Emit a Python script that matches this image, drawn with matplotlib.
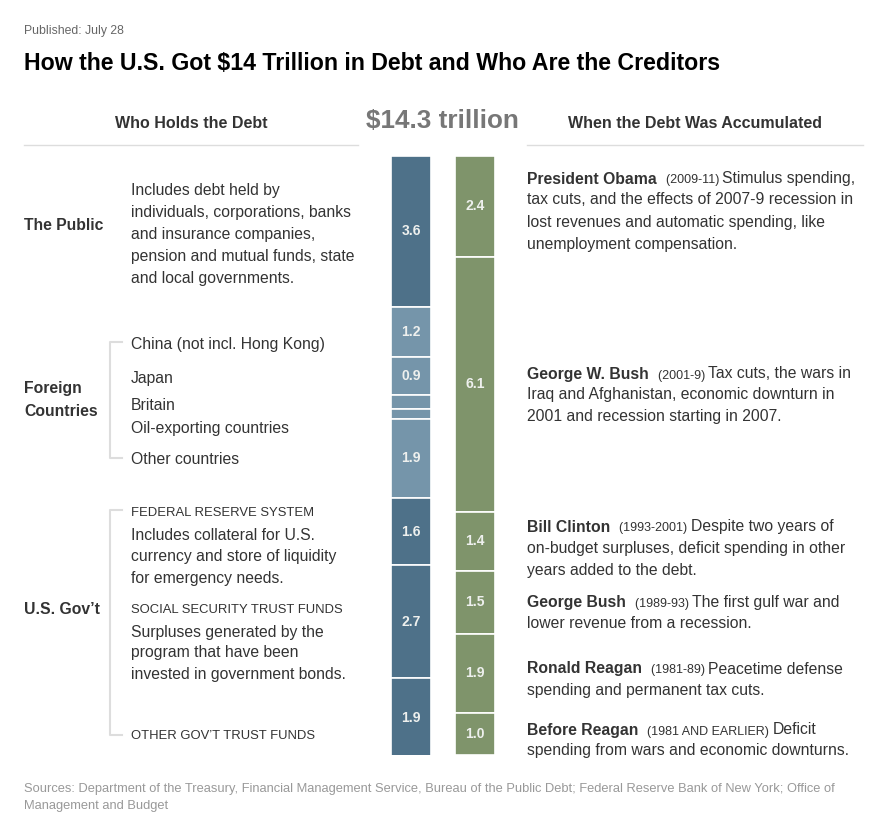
import matplotlib
matplotlib.use("Agg")
import matplotlib.pyplot as plt
import numpy as np

plt.rcParams['font.family'] = ['Liberation Sans', 'DejaVu Sans']

# ---- data ----
holders = ["The Public", "China", "Japan", "Britain", "Oil-exporting countries",
           "Other countries", "Federal Reserve System", "Social Security Trust Funds",
           "Other Gov't Trust Funds"]
holder_values = [3.6, 1.2, 0.9, 0.35, 0.22, 1.9, 1.6, 2.7, 1.9]
holder_labels = ["3.6", "1.2", "0.9", "", "", "1.9", "1.6", "2.7", "1.9"]
holder_group = ["public", "foreign", "foreign", "foreign", "foreign", "foreign", "gov", "gov", "gov"]

periods = ["President Obama", "George W. Bush", "Bill Clinton", "George Bush",
           "Ronald Reagan", "Before Reagan"]
period_values = [2.4, 6.1, 1.4, 1.5, 1.9, 1.0]
period_labels = ["2.4", "6.1", "1.4", "1.5", "1.9", "1.0"]
total_label = "$14.3 trillion"

W, H = 875, 826
fig = plt.figure(figsize=(W / 100, H / 100), dpi=100)
fig.patch.set_facecolor("white")

tx = fig.add_axes([0, 0, 1, 1])
tx.set_xlim(0, W)
tx.set_ylim(H, 0)
tx.axis("off")

DARK = "#333333"
GRAY_LINE = "#dddddd"
BLUE = "#4e7189"
LBLUE = "#7595aa"
GREEN = "#7f946b"

# ---- bars ----
bar_top, bar_bot = 156, 755
ax_left, ax_right = 380, 506
bx = fig.add_axes([ax_left / W, 1 - bar_bot / H, (ax_right - ax_left) / W, (bar_bot - bar_top) / H])
bx.axis("off")
total = sum(period_values)
bx.set_ylim(total, 0)
bx.set_xlim(-0.484, 1.484)

cols = {"public": BLUE, "foreign": LBLUE, "gov": BLUE}
bottoms = np.concatenate([[0], np.cumsum(holder_values)[:-1]])
for v, b, lab, g in zip(holder_values, bottoms, holder_labels, holder_group):
    bx.bar(0, v, bottom=b, width=0.625, color=cols[g], edgecolor="white", linewidth=1.2)
    if lab:
        bx.text(0, b + v / 2, lab, ha="center", va="center", color="#eef0ee",
                fontsize=10, fontweight="bold")

bottoms2 = np.concatenate([[0], np.cumsum(period_values)[:-1]])
for v, b, lab in zip(period_values, bottoms2, period_labels):
    bx.bar(1, v, bottom=b, width=0.625, color=GREEN, edgecolor="white", linewidth=1.2)
    bx.text(1, b + v / 2, lab, ha="center", va="center", color="#eef0ee",
            fontsize=10, fontweight="bold")

# ---- header ----
tx.text(24, 31, "Published: July 28", fontsize=8.85, color="#666666", va="center")
tx.text(24, 64, "How the U.S. Got $14 Trillion in Debt and Who Are the Creditors",
        fontsize=16.7, fontweight="bold", color="black", va="center")
tx.text(191, 124, "Who Holds the Debt", fontsize=11.5, fontweight="bold", color=DARK,
        ha="center", va="center")
tx.text(442, 121, total_label, fontsize=18.8, fontweight="bold", color="#777777",
        ha="center", va="center")
tx.text(695, 124, "When the Debt Was Accumulated", fontsize=11.5, fontweight="bold",
        color=DARK, ha="center", va="center")
tx.plot([24, 358], [145, 145], color=GRAY_LINE, lw=1)
tx.plot([527, 863], [145, 145], color=GRAY_LINE, lw=1)

BODY = 11.3
SMALL = 9.4
DATES = 9.0

def lines(x, ys, texts, size=BODY, color=DARK, weight="normal"):
    for y, t in zip(ys, texts):
        tx.text(x, y, t, fontsize=size, color=color, fontweight=weight, va="center")

# left side
tx.text(24, 225, "The Public", fontsize=BODY, fontweight="bold", color=DARK, va="center")
lines(131, [191, 213, 235, 257, 279],
      ["Includes debt held by", "individuals, corporations, banks",
       "and insurance companies,", "pension and mutual funds, state",
       "and local governments."])

lines(24, [389, 411], ["Foreign", "Countries"], weight="bold")
tx.plot([122, 110, 110, 122], [342, 342, 458, 458], color=GRAY_LINE, lw=1.5)
lines(131, [344, 378, 405, 428, 459],
      ["China (not incl. Hong Kong)", "Japan", "Britain", "Oil-exporting countries",
       "Other countries"])

tx.text(24, 610, "U.S. Gov\u2019t", fontsize=BODY, fontweight="bold", color=DARK, va="center")
tx.plot([122, 110, 110, 122], [510, 510, 735, 735], color=GRAY_LINE, lw=1.5)
lines(131, [513], ["FEDERAL RESERVE SYSTEM"], size=SMALL)
lines(131, [535, 556, 578], ["Includes collateral for U.S.",
                             "currency and store of liquidity",
                             "for emergency needs."])
lines(131, [610], ["SOCIAL SECURITY TRUST FUNDS"], size=SMALL)
lines(131, [632, 653, 675], ["Surpluses generated by the",
                             "program that have been",
                             "invested in government bonds."])
lines(131, [736], ["OTHER GOV\u2019T TRUST FUNDS"], size=SMALL)

# right side with mixed runs (shared baseline)
fig.canvas.draw()
renderer = fig.canvas.get_renderer()

def runs(x, y, parts):
    for text, size, weight in parts:
        t = tx.text(x, y, text, fontsize=size, fontweight=weight, color=DARK, va="baseline")
        bb = t.get_window_extent(renderer=renderer)
        x += bb.width

descs = [
    (178, "President Obama", "(2009-11)", "Stimulus spending,",
     ["tax cuts, and the effects of 2007-9 recession in",
      "lost revenues and automatic spending, like",
      "unemployment compensation."]),
    (373, "George W. Bush", "(2001-9)", "Tax cuts, the wars in",
     ["Iraq and Afghanistan, economic downturn in",
      "2001 and recession starting in 2007."]),
    (526, "Bill Clinton", "(1993-2001)", "Despite two years of",
     ["on-budget surpluses, deficit spending in other",
      "years added to the debt."]),
    (602, "George Bush", "(1989-93)", "The first gulf war and",
     ["lower revenue from a recession."]),
    (668, "Ronald Reagan", "(1981-89)", "Peacetime defense",
     ["spending and permanent tax cuts."]),
    (729, "Before Reagan", "(1981 AND EARLIER)", "Deficit",
     ["spending from wars and economic downturns."]),
]
for y0, name, years, first, rest in descs:
    runs(527, y0 + 5.5, [(name + "  ", BODY, "bold"), (years + " ", DATES, "normal"),
                         (first, BODY, "normal")])
    lines(527, [y0 + 22 * (i + 1) for i in range(len(rest))], rest)

tx.text(24, 789, "Sources: Department of the Treasury, Financial Management Service, Bureau of the Public Debt; Federal Reserve Bank of New York; Office of",
        fontsize=9.3, color="#999999", va="center")
tx.text(24, 806, "Management and Budget", fontsize=9.3, color="#999999", va="center")

fig.savefig("out.png", dpi=100, facecolor="white")
